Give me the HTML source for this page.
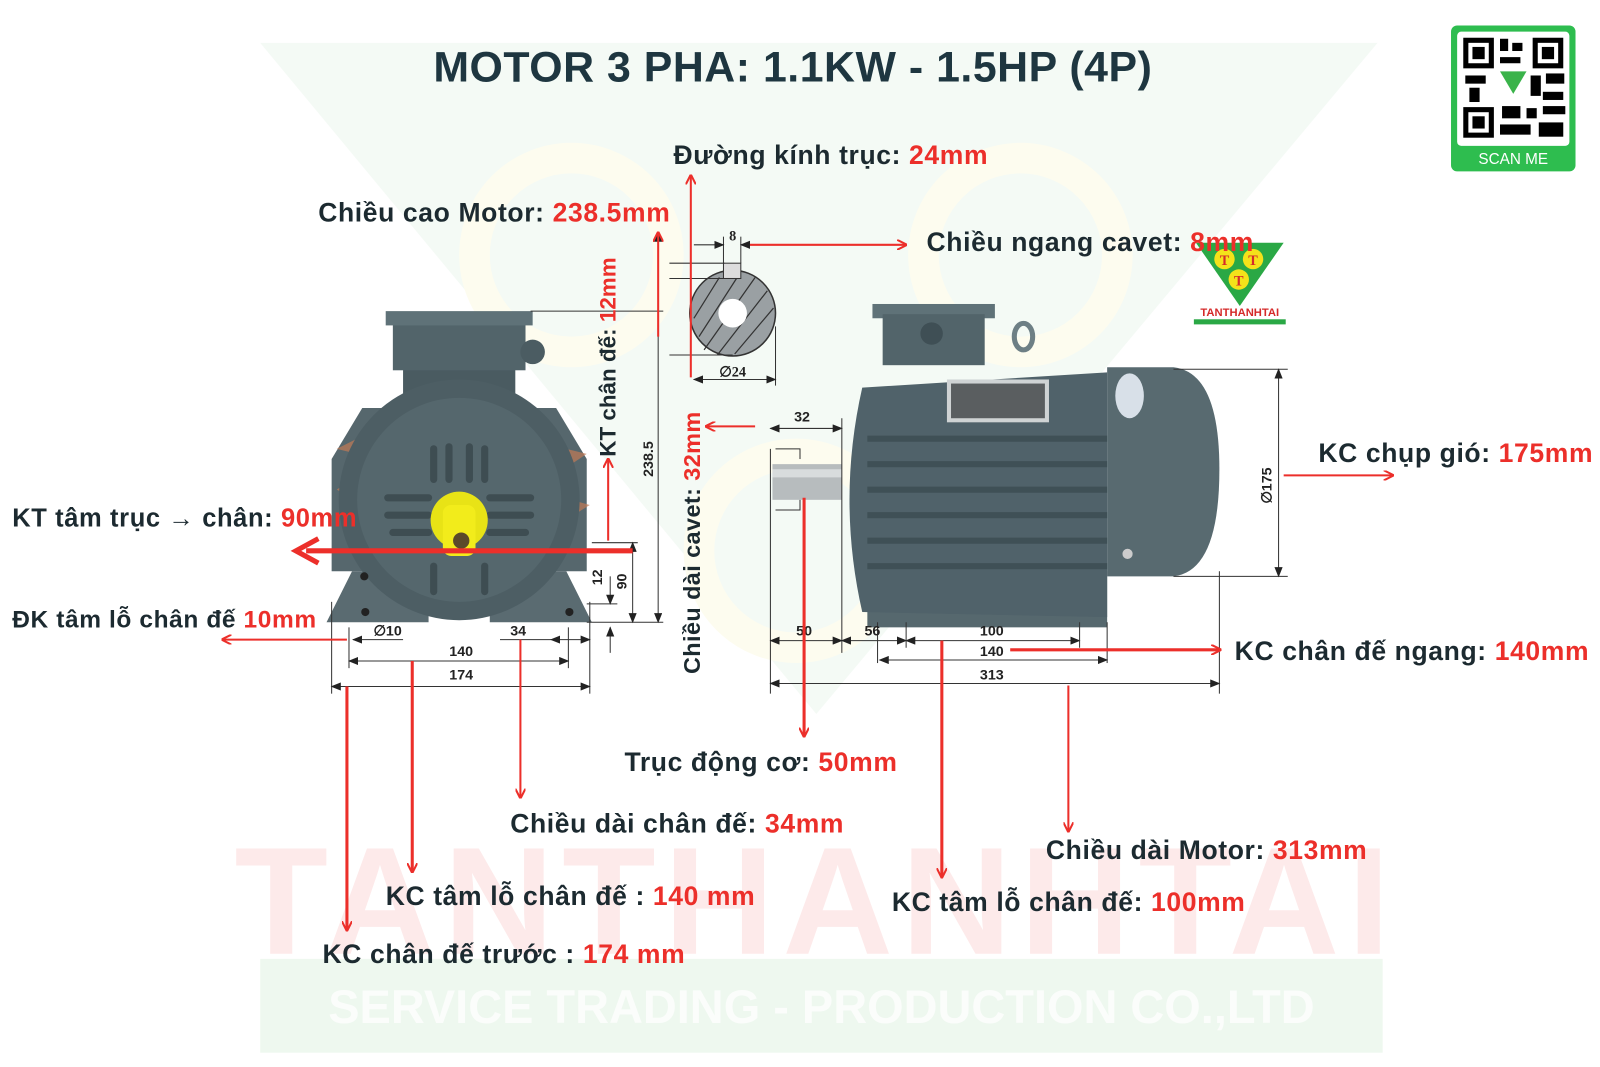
<!DOCTYPE html>
<html><head><meta charset="utf-8"><style>
html,body{margin:0;padding:0;background:#fff;width:1600px;height:1067px;overflow:hidden}
svg{display:block}
text{font-family:"Liberation Sans",sans-serif;font-weight:bold}
.lb{font-size:26px;fill:#1c2a30;letter-spacing:0.6px}
.r{fill:#ec2f2a}
.dim{font-family:"Liberation Serif",serif;font-size:14px;fill:#222}
</style></head><body>
<svg width="1600" height="1067" viewBox="0 0 1568 1046" preserveAspectRatio="none" xmlns="http://www.w3.org/2000/svg">
<defs>
<marker id="ar" markerWidth="10" markerHeight="10" refX="9" refY="5" orient="auto" markerUnits="userSpaceOnUse"><path d="M0,0 L10,5 L0,10" fill="none" stroke="#ec2f2a" stroke-width="2"/></marker>
<marker id="ab" markerWidth="10" markerHeight="8" refX="9" refY="4" orient="auto" markerUnits="userSpaceOnUse"><path d="M0,0 L10,4 L0,8 z" fill="#222"/></marker>
<marker id="as" markerWidth="10" markerHeight="8" refX="1" refY="4" orient="auto" markerUnits="userSpaceOnUse"><path d="M10,0 L0,4 L10,8 z" fill="#222"/></marker>
</defs>
<!-- watermark -->
<polygon points="255,42 1350,42 800,700" fill="#f1f9f2" opacity="0.8"/>
<circle cx="560" cy="250" r="95" fill="none" stroke="#fdfcef" stroke-width="30"/>
<circle cx="1000" cy="250" r="95" fill="none" stroke="#fdfcef" stroke-width="30"/>
<circle cx="780" cy="540" r="95" fill="none" stroke="#fdfcef" stroke-width="30"/>
<text x="800" y="935" text-anchor="middle" style="font-size:150px;fill:#fdeaea;letter-spacing:8px">TANTHANHTAI</text>
<rect x="255" y="940" width="1100" height="92" fill="#eef8ef"/>
<text x="805" y="1003" text-anchor="middle" style="font-size:46px;fill:#fbfdfb">SERVICE TRADING - PRODUCTION CO.,LTD</text>

<!-- title -->
<text x="777" y="80" text-anchor="middle" style="font-size:42px;fill:#1e3640;letter-spacing:0.5px">MOTOR 3 PHA: 1.1KW - 1.5HP (4P)</text>

<!-- QR -->
<rect x="1422" y="25" width="122" height="143" rx="6" fill="#2ebd4f"/>
<rect x="1428" y="31" width="110" height="112" rx="4" fill="#fff"/>
<g fill="#000">
<rect x="1434" y="37" width="30" height="30"/><rect x="1439" y="42" width="20" height="20" fill="#fff"/><rect x="1443" y="46" width="12" height="12"/>
<rect x="1502" y="37" width="30" height="30"/><rect x="1507" y="42" width="20" height="20" fill="#fff"/><rect x="1511" y="46" width="12" height="12"/>
<rect x="1434" y="105" width="30" height="30"/><rect x="1439" y="110" width="20" height="20" fill="#fff"/><rect x="1443" y="114" width="12" height="12"/>
<rect x="1470" y="38" width="8" height="12"/><rect x="1482" y="42" width="10" height="8"/><rect x="1470" y="56" width="20" height="6"/>
<rect x="1436" y="74" width="20" height="8"/><rect x="1440" y="86" width="10" height="14"/><rect x="1500" y="74" width="10" height="20"/>
<rect x="1515" y="72" width="18" height="10"/><rect x="1512" y="90" width="20" height="8"/><rect x="1472" y="104" width="18" height="12"/>
<rect x="1496" y="106" width="10" height="10"/><rect x="1512" y="104" width="22" height="8"/><rect x="1470" y="122" width="30" height="10"/><rect x="1508" y="120" width="24" height="14"/>
</g>
<polygon points="1470,70 1496,70 1483,92" fill="#3ab34a"/>
<text x="1483" y="161" text-anchor="middle" style="font-size:15px;fill:#fff;font-weight:normal">SCAN ME</text>

<!-- TTT logo -->
<polygon points="1172,238 1258,238 1215,300" fill="#2aa845"/>
<circle cx="1200" cy="254" r="10" fill="#f4e21a"/><circle cx="1228" cy="254" r="10" fill="#f4e21a"/><circle cx="1214" cy="274" r="10" fill="#f4e21a"/>
<text x="1200" y="260" text-anchor="middle" style="font-size:14px;fill:#d52a2a;font-family:'Liberation Serif',serif">T</text>
<text x="1228" y="260" text-anchor="middle" style="font-size:14px;fill:#d52a2a;font-family:'Liberation Serif',serif">T</text>
<text x="1214" y="280" text-anchor="middle" style="font-size:14px;fill:#d52a2a;font-family:'Liberation Serif',serif">T</text>
<text x="1215" y="310" text-anchor="middle" style="font-size:11px;fill:#d52a2a">TANTHANHTAI</text>
<rect x="1170" y="313" width="90" height="5" fill="#2aa845"/>

<!-- FRONT MOTOR -->
<g>
<polygon points="355,400 545,400 575,450 575,560 325,560 325,450" fill="#56676d"/>
<g fill="#c27a55" opacity="0.7"><polygon points="330,440 350,430 350,445"/><polygon points="330,480 345,470 345,488"/><polygon points="555,440 575,445 560,455"/><polygon points="560,490 578,495 562,505"/></g>
<rect x="395" y="355" width="110" height="60" fill="#4a5b61"/>
<rect x="385" y="315" width="130" height="48" fill="#52646a"/>
<rect x="378" y="305" width="144" height="14" fill="#5f7278"/>
<circle cx="522" cy="345" r="12" fill="#4b5c62"/>
<polygon points="320,610 345,560 420,560 420,610" fill="#5a6b71"/>
<polygon points="480,610 480,560 555,560 580,610" fill="#5a6b71"/>
<circle cx="450" cy="490" r="118" fill="#4d5e64"/>
<circle cx="450" cy="490" r="100" fill="#55676d"/>
<g stroke="#3e4d52" stroke-width="7" stroke-linecap="round">
<line x1="425" y1="440" x2="425" y2="470"/><line x1="440" y1="438" x2="440" y2="470"/><line x1="460" y1="438" x2="460" y2="470"/><line x1="475" y1="440" x2="475" y2="470"/>
<line x1="380" y1="488" x2="420" y2="488"/><line x1="380" y1="505" x2="420" y2="505"/><line x1="385" y1="522" x2="420" y2="522"/>
<line x1="480" y1="488" x2="520" y2="488"/><line x1="480" y1="505" x2="520" y2="505"/><line x1="480" y1="522" x2="515" y2="522"/>
<line x1="425" y1="555" x2="425" y2="580"/><line x1="475" y1="555" x2="475" y2="580"/>
</g>
<circle cx="357" cy="565" r="4" fill="#222"/><circle cx="558" cy="600" r="4" fill="#222"/><circle cx="358" cy="600" r="4" fill="#222"/>
<circle cx="450" cy="510" r="28" fill="#e8e316"/>
<rect x="434" y="495" width="32" height="50" rx="8" fill="#f2ec1b"/>
<circle cx="452" cy="530" r="8" fill="#5a4a2a"/>
</g>

<!-- SIDE MOTOR -->
<g>
<rect x="855" y="298" width="120" height="14" fill="#5f7278"/>
<rect x="865" y="308" width="100" height="50" fill="#52646a"/>
<circle cx="913" cy="327" r="11" fill="#3f4f55"/>
<ellipse cx="1003" cy="330" rx="9" ry="13" fill="none" stroke="#6d7f85" stroke-width="5"/>
<rect x="850" y="560" width="235" height="55" fill="#56686e"/>
<rect x="860" y="540" width="20" height="30" fill="#5d6f75"/>
<rect x="962" y="540" width="18" height="40" fill="#5d6f75"/>
<path d="M845,380 L1085,365 L1085,605 L845,600 Q820,490 845,380 z" fill="#50626a"/>
<g stroke="#3f5056" stroke-width="6">
<line x1="850" y1="430" x2="1085" y2="430"/><line x1="850" y1="455" x2="1085" y2="455"/><line x1="850" y1="480" x2="1085" y2="480"/><line x1="850" y1="505" x2="1085" y2="505"/><line x1="850" y1="530" x2="1085" y2="530"/><line x1="850" y1="555" x2="1085" y2="555"/>
</g>
<rect x="928" y="372" width="100" height="42" fill="#cfd3d4"/>
<rect x="932" y="376" width="92" height="34" fill="#5a5e60"/>
<path d="M1085,360 L1150,360 Q1195,365 1195,460 Q1195,560 1150,565 L1085,565 z" fill="#586a70"/>
<ellipse cx="1107" cy="388" rx="14" ry="22" fill="#d8e0e8"/>
<circle cx="1105" cy="543" r="5" fill="#ccc"/>
<rect x="757" y="455" width="68" height="35" fill="#b7bcbe"/>
<rect x="757" y="460" width="68" height="8" fill="#d8dcdd"/>
</g>

<!-- shaft cross section -->
<circle cx="718" cy="307" r="42" fill="#9aa0a3" stroke="#333" stroke-width="1.5"/>
<g stroke="#333" stroke-width="1.2">
<line x1="685" y1="330" x2="725" y2="268"/><line x1="690" y1="343" x2="740" y2="272"/><line x1="703" y1="348" x2="752" y2="285"/><line x1="720" y1="347" x2="758" y2="302"/><line x1="680" y1="312" x2="705" y2="272"/>
</g>
<circle cx="718" cy="307" r="14" fill="#fff"/>
<rect x="709" y="258" width="17" height="15" fill="#ddd" stroke="#333"/>
<g stroke="#333" stroke-width="1" fill="none">
<line x1="656" y1="258" x2="710" y2="258"/><line x1="656" y1="273" x2="710" y2="273"/><line x1="656" y1="348" x2="718" y2="348"/>
<line x1="709" y1="232" x2="709" y2="258"/><line x1="726" y1="232" x2="726" y2="258"/>
<line x1="680" y1="240" x2="709" y2="240" marker-end="url(#ab)"/><line x1="760" y1="240" x2="726" y2="240" marker-end="url(#ab)"/>
<line x1="760" y1="320" x2="760" y2="378"/>
<line x1="680" y1="372" x2="760" y2="372" marker-start="url(#as)" marker-end="url(#ab)"/>
</g>
<text x="718" y="236" text-anchor="middle" class="dim">8</text>
<text x="718" y="369" text-anchor="middle" class="dim">∅24</text>

<!-- dimension lines (black) -->
<g stroke="#333" stroke-width="1" fill="none">
<line x1="520" y1="305" x2="650" y2="305"/>
<line x1="645" y1="228" x2="645" y2="610" marker-start="url(#as)" marker-end="url(#ab)"/>
<line x1="575" y1="610" x2="650" y2="610"/>
<line x1="580" y1="532" x2="625" y2="532"/>
<line x1="598" y1="565" x2="598" y2="592" marker-end="url(#ab)"/><line x1="598" y1="640" x2="598" y2="615" marker-end="url(#ab)"/>
<line x1="575" y1="592" x2="605" y2="592"/>
<line x1="620" y1="532" x2="620" y2="610" marker-start="url(#as)" marker-end="url(#ab)"/>
<line x1="325" y1="590" x2="325" y2="680"/><line x1="578" y1="590" x2="578" y2="680"/>
<line x1="342" y1="615" x2="342" y2="655"/><line x1="557" y1="615" x2="557" y2="655"/>
<line x1="325" y1="673" x2="578" y2="673" marker-start="url(#as)" marker-end="url(#ab)"/>
<line x1="342" y1="648" x2="557" y2="648" marker-start="url(#as)" marker-end="url(#ab)"/>
<line x1="395" y1="627" x2="346" y2="627" marker-end="url(#ab)"/>
<line x1="490" y1="627" x2="540" y2="627"/>
<line x1="540" y1="627" x2="578" y2="627" marker-start="url(#as)" marker-end="url(#ab)"/>
<line x1="755" y1="420" x2="825" y2="420" marker-start="url(#as)" marker-end="url(#ab)"/>
<line x1="825" y1="410" x2="825" y2="640"/>
<line x1="784" y1="440" x2="784" y2="450"/><polyline points="760,440 784,440 784,450"/><polyline points="760,500 784,500 784,490"/>
<line x1="755" y1="440" x2="755" y2="680"/>
<line x1="755" y1="628" x2="825" y2="628" marker-start="url(#as)" marker-end="url(#ab)"/>
<line x1="825" y1="628" x2="888" y2="628" marker-start="url(#as)" marker-end="url(#ab)"/>
<line x1="888" y1="628" x2="1058" y2="628" marker-start="url(#as)" marker-end="url(#ab)"/>
<line x1="888" y1="610" x2="888" y2="635"/><line x1="1058" y1="610" x2="1058" y2="635"/>
<line x1="860" y1="610" x2="860" y2="650"/><line x1="1085" y1="610" x2="1085" y2="650"/>
<line x1="862" y1="647" x2="1085" y2="647" marker-start="url(#as)" marker-end="url(#ab)"/>
<line x1="1195" y1="560" x2="1195" y2="680"/>
<line x1="755" y1="670" x2="1195" y2="670" marker-start="url(#as)" marker-end="url(#ab)"/>
<line x1="1150" y1="362" x2="1262" y2="362"/><line x1="1150" y1="565" x2="1262" y2="565"/>
<line x1="1253" y1="362" x2="1253" y2="565" marker-start="url(#as)" marker-end="url(#ab)"/>
</g>
<g class="dim">
<text x="366" y="623" style="font-size:14px">∅10</text>
<text x="500" y="623" style="font-size:14px">34</text>
<text x="452" y="643" text-anchor="middle" style="font-size:14px">140</text>
<text x="452" y="666" text-anchor="middle" style="font-size:14px">174</text>
<text transform="translate(590,566) rotate(-90)" text-anchor="middle" style="font-size:14px">12</text>
<text transform="translate(614,570) rotate(-90)" text-anchor="middle" style="font-size:14px">90</text>
<text transform="translate(640,450) rotate(-90)" text-anchor="middle" style="font-size:14px">238.5</text>
<text x="786" y="413" text-anchor="middle" style="font-size:14px">32</text>
<text x="788" y="623" text-anchor="middle" style="font-size:14px">50</text>
<text x="855" y="623" text-anchor="middle" style="font-size:14px">56</text>
<text x="972" y="623" text-anchor="middle" style="font-size:14px">100</text>
<text x="972" y="643" text-anchor="middle" style="font-size:14px">140</text>
<text x="972" y="666" text-anchor="middle" style="font-size:14px">313</text>
<text transform="translate(1246,476) rotate(-90)" text-anchor="middle" style="font-size:14px">∅175</text>
</g>

<!-- red arrows -->
<g stroke="#ec2f2a" stroke-width="2" fill="none">
<line x1="677" y1="370" x2="677" y2="172" marker-end="url(#ar)"/>
<line x1="735" y1="240" x2="888" y2="240" marker-end="url(#ar)"/>
<line x1="596" y1="530" x2="596" y2="450" marker-end="url(#ar)"/>
<line x1="740" y1="418" x2="692" y2="418" marker-end="url(#ar)"/>
<line x1="645" y1="330" x2="645" y2="228" marker-end="url(#ar)"/>
<line x1="788" y1="488" x2="788" y2="722" stroke-width="3" marker-end="url(#ar)"/>
<line x1="1258" y1="466" x2="1365" y2="466" marker-end="url(#ar)"/>
<line x1="990" y1="637" x2="1196" y2="637" stroke-width="3" marker-end="url(#ar)"/>
<line x1="923" y1="628" x2="923" y2="860" stroke-width="3" marker-end="url(#ar)"/>
<line x1="1047" y1="672" x2="1047" y2="815" marker-end="url(#ar)"/>
<line x1="510" y1="627" x2="510" y2="782" marker-end="url(#ar)"/>
<line x1="404" y1="648" x2="404" y2="855" stroke-width="3" marker-end="url(#ar)"/>
<line x1="340" y1="673" x2="340" y2="912" stroke-width="3" marker-end="url(#ar)"/>
<line x1="340" y1="627" x2="218" y2="627" marker-end="url(#ar)"/>
</g>
<line x1="620" y1="540" x2="300" y2="540" stroke="#ec2f2a" stroke-width="5"/>
<polyline points="312,528 290,540 312,552" fill="none" stroke="#ec2f2a" stroke-width="5"/>

<!-- labels -->
<text x="660" y="161" class="lb">Đường kính trục: <tspan class="r">24mm</tspan></text>
<text x="657" y="217" text-anchor="end" class="lb">Chiều cao Motor: <tspan class="r">238.5mm</tspan></text>
<text x="908" y="246" class="lb">Chiều ngang cavet: <tspan class="r">8mm</tspan></text>
<text x="12" y="516" class="lb" style="font-size:25px">KT tâm trục → chân: <tspan class="r">90mm</tspan></text>
<text x="12" y="615" class="lb" style="font-size:24px">ĐK tâm lỗ chân đế <tspan class="r">10mm</tspan></text>
<text x="1292" y="453" class="lb">KC chụp gió: <tspan class="r">175mm</tspan></text>
<text x="1210" y="647" class="lb">KC chân đế ngang: <tspan class="r">140mm</tspan></text>
<text x="612" y="756" class="lb">Trục động cơ: <tspan class="r">50mm</tspan></text>
<text x="500" y="816" class="lb">Chiều dài chân đế: <tspan class="r">34mm</tspan></text>
<text x="1025" y="842" class="lb">Chiều dài Motor: <tspan class="r">313mm</tspan></text>
<text x="378" y="887" class="lb">KC tâm lỗ chân đế  : <tspan class="r">140 mm</tspan></text>
<text x="874" y="893" class="lb">KC tâm lỗ chân đế: <tspan class="r">100mm</tspan></text>
<text x="316" y="944" class="lb">KC chân đế trước  : <tspan class="r">174 mm</tspan></text>
<text transform="translate(603,350) rotate(-90)" text-anchor="middle" class="lb" style="font-size:22px;letter-spacing:0">KT chân đế: <tspan class="r">12mm</tspan></text>
<text transform="translate(686,532) rotate(-90)" text-anchor="middle" class="lb" style="font-size:23px;letter-spacing:0.4px">Chiều dài cavet: <tspan class="r">32mm</tspan></text>
</svg>
</body></html>
